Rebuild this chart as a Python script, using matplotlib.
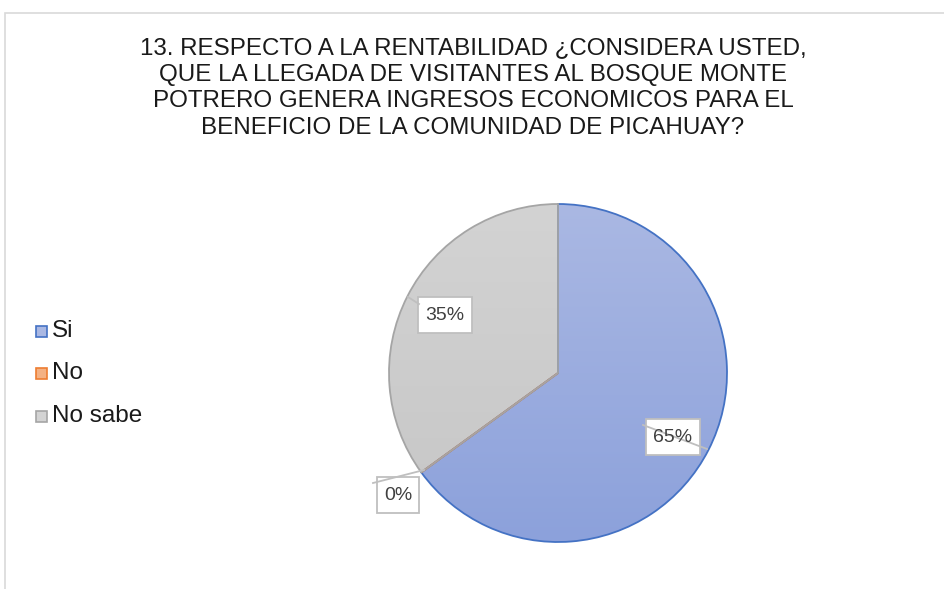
import numpy as np
import matplotlib
matplotlib.use("Agg")
import matplotlib.pyplot as plt
from matplotlib.colors import LinearSegmentedColormap
from matplotlib.patches import Rectangle

categories = ["Si", "No", "No sabe"]
values = [65, 0, 35]
labels = ["65%", "0%", "35%"]
title = ("13. RESPECTO A LA RENTABILIDAD ¿CONSIDERA USTED,\n"
         "QUE LA LLEGADA DE VISITANTES AL BOSQUE MONTE\n"
         "POTRERO GENERA INGRESOS ECONOMICOS PARA EL\n"
         "BENEFICIO DE LA COMUNIDAD DE PICAHUAY?")

top_colors = ["#AAB8E3", "#F4B183", "#D3D3D3"]
bot_colors = ["#8CA1DB", "#F08A4B", "#C6C6C6"]
edge_colors = ["#4472C4", "#ED7D31", "#A5A5A5"]

W, H = 945, 589
fig = plt.figure(figsize=(W / 100, H / 100), dpi=100)
ax = fig.add_axes([0, 0, 1, 1])

cx, cy, r = 558, H - 373, 169
wedges, _ = ax.pie(values, startangle=90, counterclock=False,
                   center=(cx, cy), radius=r, frame=True,
                   wedgeprops=dict(linewidth=1.3))
ax.set_xlim(0, W)
ax.set_ylim(0, H)
ax.set_aspect("equal")
ax.axis("off")

# chart border (only left/top visible)
ax.add_patch(Rectangle((5, -20), W + 40, H - 13 + 20, fill=False,
                       edgecolor="#D9D9D9", linewidth=1.2))

for w, tc, bc, ec in zip(wedges, top_colors, bot_colors, edge_colors):
    w.set_facecolor("none")
    w.set_edgecolor(ec)
    w.set_zorder(3)
    cmap = LinearSegmentedColormap.from_list("g", [bc, tc])
    grad = np.linspace(0, 1, 256).reshape(-1, 1)
    im = ax.imshow(grad, cmap=cmap, origin="lower",
                   extent=(cx - r, cx + r, cy - r, cy + r),
                   aspect="auto", zorder=2)
    im.set_clip_path(w)

# data labels with leader lines
lab_pos = {"65%": (673, H - 437), "0%": (398, H - 495), "35%": (445, H - 315)}
leaders = {"65%": [(643, H - 425), (707, H - 449)],
           "0%": [(373, H - 483), (424, H - 470)],
           "35%": [(408, H - 297), (419, H - 304)]}
fig.canvas.draw()
renderer = fig.canvas.get_renderer()
for lab in labels:
    (x0, y0), (x1, y1) = leaders[lab]
    ax.plot([x0, x1], [y0, y1], color="#BFBFBF", lw=1.3, zorder=6)
    x, y = lab_pos[lab]
    t = ax.text(x, y, lab, ha="center", va="center", fontsize=14,
                family="Liberation Sans", color="#404040", zorder=7)
    bb = t.get_window_extent(renderer)
    bw = bb.width + 14
    bh = 36
    ax.add_patch(Rectangle((x - bw / 2, y - bh / 2), bw, bh, facecolor="white",
                           edgecolor="#BFBFBF", lw=1.3, zorder=5))

# title
fig.text(473 / W, 1 - 88 / H, title, ha="center", va="center",
         fontsize=17.4, family="Liberation Sans", color="#1A1A1A",
         linespacing=1.28)

# legend
leg_y = [331, 373, 416]
for cat, tc, ec, ly in zip(categories, top_colors, edge_colors, leg_y):
    ax.add_patch(Rectangle((36, H - ly - 5.5), 11, 11, facecolor=tc,
                           edgecolor=ec, lw=1.2))
    ax.text(52, H - ly, cat, ha="left", va="center", fontsize=17.5,
            family="Liberation Sans", color="#1A1A1A")

fig.savefig("out.png", dpi=100)
